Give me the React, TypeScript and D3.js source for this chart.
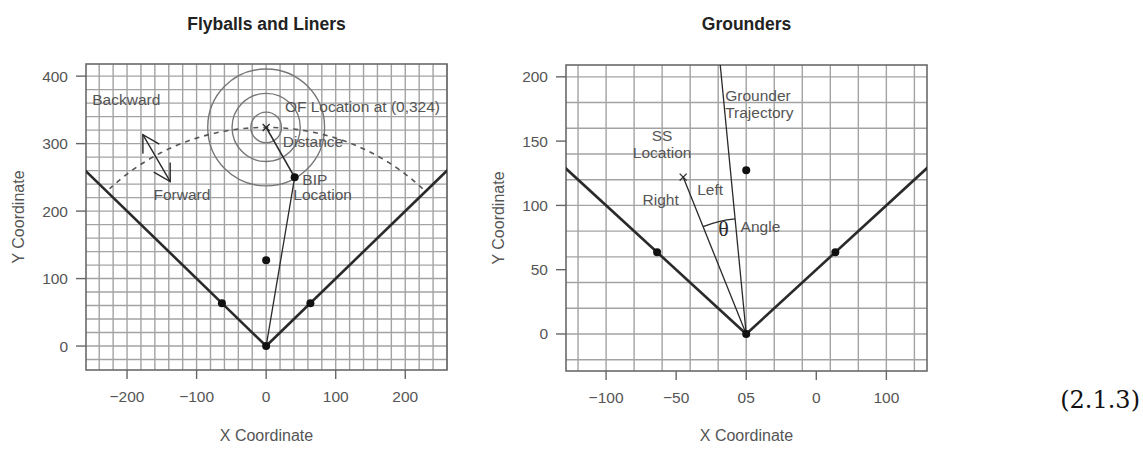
import React from "react";
import * as d3 from "d3";

// ---- data (field coordinates, feet) ----
const flyTicksX = [-200, -100, 0, 100, 200];
const flyTicksY = [0, 100, 200, 300, 400];
const groundTicksX = [-100, -50, 0, 50, 100];
const groundTickLabels = ["\u2212100", "\u221250", "05", "0", "100"];
const groundTicksY = [0, 50, 100, 150, 200];
const gridStep = 20;

const bases = [
  [0, 0],
  [63.6, 63.6],
  [0, 127.3],
  [-63.6, 63.6],
];
const ofLocation = [0, 324];
const bipLocation = [41, 250];
const ofRings = [22, 49, 84];
const arcRadius = 324;
const arcAngles = [46, 134];
const arrowAngle = 119.5;
const arrowRadii = [280, 360];

const ssLocation = [-45, 122];
const trajectoryEnd = [-19.5, 220];
const angleRadius = 90;

const flyLabels = [
  { text: "Backward", x: -250, y: 357 },
  { text: "OF Location at (0,324)", x: 27, y: 347 },
  { text: "Distance", x: 24, y: 295 },
  { text: "BIP", x: 52, y: 239 },
  { text: "Location", x: 39, y: 216 },
  { text: "Forward", x: -162, y: 216 },
];
const groundLabels = [
  { text: "Grounder", x: -15, y: 181, anchor: "start" },
  { text: "Trajectory", x: -15, y: 168, anchor: "start" },
  { text: "SS", x: -60, y: 150, anchor: "middle" },
  { text: "Location", x: -60, y: 137, anchor: "middle" },
  { text: "Left", x: -35, y: 108, anchor: "start" },
  { text: "Right", x: -74, y: 100, anchor: "start" },
  { text: "Angle", x: -4, y: 79, anchor: "start" },
];

const W = 1143;
const H = 468;
const font = "'Liberation Sans', Arial, Helvetica, sans-serif";
const ink = "#2a2a2a";
const grey = "#555";

type Scale = d3.ScaleLinear<number, number>;

function Frame({ id, x, y, ticksX, labelsX, ticksY, title }: {
  id: string; x: Scale; y: Scale; ticksX: number[]; labelsX: string[]; ticksY: number[]; title: string;
}) {
  const [x0, x1] = x.range();
  const [y0, y1] = y.range(); // y0 bottom, y1 top
  const [dx0, dx1] = x.domain();
  const [dy0, dy1] = y.domain();
  const gx = d3.range(Math.ceil(dx0 / gridStep) * gridStep, dx1 + 0.01, gridStep);
  const gy = d3.range(Math.ceil(dy0 / gridStep) * gridStep, dy1 + 0.01, gridStep);
  const cx = (x0 + x1) / 2;
  const cy = (y0 + y1) / 2;
  return (
    <g>
      <clipPath id={id}>
        <rect x={x0} y={y1} width={x1 - x0} height={y0 - y1} />
      </clipPath>
      <g stroke="#a3a3a3" strokeWidth={1.4}>
        {gx.map((v) => <line key={"gx" + v} x1={x(v)} x2={x(v)} y1={y1} y2={y0} />)}
        {gy.map((v) => <line key={"gy" + v} x1={x0} x2={x1} y1={y(v)} y2={y(v)} />)}
      </g>
      <rect x={x0} y={y1} width={x1 - x0} height={y0 - y1} fill="none" stroke="#6a6a6a" strokeWidth={1.6} />
      <g stroke="#666" strokeWidth={1.4}>
        {ticksX.map((v) => <line key={"tx" + v} x1={x(v)} x2={x(v)} y1={y0} y2={y0 + 9} />)}
        {ticksY.map((v) => <line key={"ty" + v} x1={x0} x2={x0 - 10} y1={y(v)} y2={y(v)} />)}
      </g>
      <g fill={grey} fontFamily={font} fontSize={15.5}>
        {ticksX.map((v, i) => (
          <text key={"lx" + v} x={x(v)} y={y0 + 32} textAnchor="middle">{labelsX[i]}</text>
        ))}
        {ticksY.map((v) => (
          <text key={"ly" + v} x={x0 - 18} y={y(v) + 5.5} textAnchor="end">{String(v)}</text>
        ))}
      </g>
      <g fill={grey} fontFamily={font} fontSize={16}>
        <text x={cx} y={441} textAnchor="middle">X Coordinate</text>
        <text transform={`translate(${x0 - 62},${cy}) rotate(-90)`} textAnchor="middle">Y Coordinate</text>
      </g>
      <text x={cx} y={30} textAnchor="middle" fontFamily={font} fontSize={17.5} fontWeight="bold" fill="#222">{title}</text>
    </g>
  );
}

function Dot({ x, y, p }: { x: Scale; y: Scale; p: number[] }) {
  return <circle cx={x(p[0])} cy={y(p[1])} r={4} fill="#111" />;
}

function Cross({ x, y, p }: { x: Scale; y: Scale; p: number[] }) {
  const s = 3.5;
  const px = x(p[0]);
  const py = y(p[1]);
  return (
    <path d={`M${px - s},${py - s}L${px + s},${py + s}M${px - s},${py + s}L${px + s},${py - s}`} stroke={ink} strokeWidth={1.3} />
  );
}

function arrowHead(tip: number[], from: number[], len: number) {
  const a = Math.atan2(tip[1] - from[1], tip[0] - from[0]);
  const b = (30 * Math.PI) / 180;
  const p1 = [tip[0] - len * Math.cos(a - b), tip[1] - len * Math.sin(a - b)];
  const p2 = [tip[0] - len * Math.cos(a + b), tip[1] - len * Math.sin(a + b)];
  return `M${p1[0]},${p1[1]}L${tip[0]},${tip[1]}L${p2[0]},${p2[1]}`;
}

function Flyballs() {
  const x = d3.scaleLinear().domain([-259, 260]).range([86, 447]);
  const y = d3.scaleLinear().domain([-35.5, 418]).range([370, 64]);
  const home = [x(0), y(0)];
  const rad = (d: number) => (d * Math.PI) / 180;
  const arcPts = d3.range(arcAngles[0], arcAngles[1] + 0.5, 1).map((a) => [
    x(arcRadius * Math.cos(rad(a))),
    y(arcRadius * Math.sin(rad(a))),
  ]);
  const line = d3.line();
  const a0 = [x(arrowRadii[0] * Math.cos(rad(arrowAngle))), y(arrowRadii[0] * Math.sin(rad(arrowAngle)))];
  const a1 = [x(arrowRadii[1] * Math.cos(rad(arrowAngle))), y(arrowRadii[1] * Math.sin(rad(arrowAngle)))];
  const unit = x(1) - x(0);
  return (
    <g>
      <Frame id="clipFly" x={x} y={y} ticksX={flyTicksX} labelsX={flyTicksX.map((v) => d3.format("")(v).replace("-", "\u2212"))} ticksY={flyTicksY} title="Flyballs and Liners" />
      <g clipPath="url(#clipFly)">
        {ofRings.map((r) => (
          <circle key={r} cx={x(ofLocation[0])} cy={y(ofLocation[1])} r={r * unit} fill="none" stroke="#777" strokeWidth={1.4} />
        ))}
        <path d={line(arcPts as [number, number][]) || ""} fill="none" stroke="#555" strokeWidth={1.6} strokeDasharray="5,5" />
        <line x1={home[0]} y1={home[1]} x2={x(-300)} y2={y(300)} stroke={ink} strokeWidth={2.6} />
        <line x1={home[0]} y1={home[1]} x2={x(300)} y2={y(300)} stroke={ink} strokeWidth={2.6} />
        <line x1={x(ofLocation[0])} y1={y(ofLocation[1])} x2={x(bipLocation[0])} y2={y(bipLocation[1])} stroke={ink} strokeWidth={1.6} />
        <line x1={home[0]} y1={home[1]} x2={x(bipLocation[0])} y2={y(bipLocation[1])} stroke={ink} strokeWidth={1.3} />
        <line x1={a0[0]} y1={a0[1]} x2={a1[0]} y2={a1[1]} stroke={ink} strokeWidth={1.4} />
        <path d={arrowHead(a1, a0, 19)} fill="none" stroke={ink} strokeWidth={1.4} />
        <path d={arrowHead(a0, a1, 19)} fill="none" stroke={ink} strokeWidth={1.4} />
        <Cross x={x} y={y} p={ofLocation} />
        {bases.map((b, i) => <Dot key={i} x={x} y={y} p={b} />)}
        <Dot x={x} y={y} p={bipLocation} />
      </g>
      <g fill={grey} fontFamily={font} fontSize={15.5}>
        {flyLabels.map((l) => (
          <text key={l.text + l.x} x={x(l.x)} y={y(l.y)}>{l.text}</text>
        ))}
      </g>
    </g>
  );
}

function Grounders() {
  const x = d3.scaleLinear().domain([-128.6, 129]).range([566, 927]);
  const y = d3.scaleLinear().domain([-28.8, 209.2]).range([371, 65]);
  const home = [x(0), y(0)];
  const ss = [x(ssLocation[0]), y(ssLocation[1])];
  const tr = [x(trajectoryEnd[0]), y(trajectoryEnd[1])];
  const angSS = Math.atan2(ss[1] - home[1], ss[0] - home[0]);
  const angTr = Math.atan2(tr[1] - home[1], tr[0] - home[0]);
  const p = d3.path();
  const r = angleRadius * (y(0) - y(1));
  p.arc(home[0], home[1], r, angSS, angTr, false);
  const th = groundLabels.find((l) => l.text === "Angle")!;
  return (
    <g>
      <Frame id="clipGround" x={x} y={y} ticksX={groundTicksX} labelsX={groundTickLabels} ticksY={groundTicksY} title="Grounders" />
      <g clipPath="url(#clipGround)">
        <line x1={home[0]} y1={home[1]} x2={x(-300)} y2={y(300)} stroke={ink} strokeWidth={2.6} />
        <line x1={home[0]} y1={home[1]} x2={x(300)} y2={y(300)} stroke={ink} strokeWidth={2.6} />
        <line x1={home[0]} y1={home[1]} x2={ss[0]} y2={ss[1]} stroke={ink} strokeWidth={1.3} />
        <line x1={home[0]} y1={home[1]} x2={tr[0]} y2={tr[1]} stroke={ink} strokeWidth={1.3} />
        <path d={p.toString()} fill="none" stroke={ink} strokeWidth={1.3} />
        <Cross x={x} y={y} p={ssLocation} />
        {bases.map((b, i) => <Dot key={i} x={x} y={y} p={b} />)}
      </g>
      <g fill={grey} fontFamily={font} fontSize={15.5}>
        {groundLabels.map((l) => (
          <text key={l.text + l.x} x={x(l.x)} y={y(l.y)} textAnchor={l.anchor}>{l.text}</text>
        ))}
      </g>
      <text x={x(th.x) - 17} y={y(th.y) + 4} textAnchor="middle" fontFamily="'Liberation Serif', 'DejaVu Serif', serif" fontSize={22} fill={ink}>θ</text>
    </g>
  );
}

export default function App() {
  return (
    <svg width={W} height={H} viewBox={`0 0 ${W} ${H}`} style={{ position: "absolute", left: 0, top: 0, background: "#fff" }}>
      <rect width={W} height={H} fill="#fff" />
      <Flyballs />
      <Grounders />
      <text x={1140} y={408} textAnchor="end" fontFamily="'DejaVu Serif', 'Liberation Serif', serif" fontSize={24} fill="#111">(2.1.3)</text>
    </svg>
  );
}
